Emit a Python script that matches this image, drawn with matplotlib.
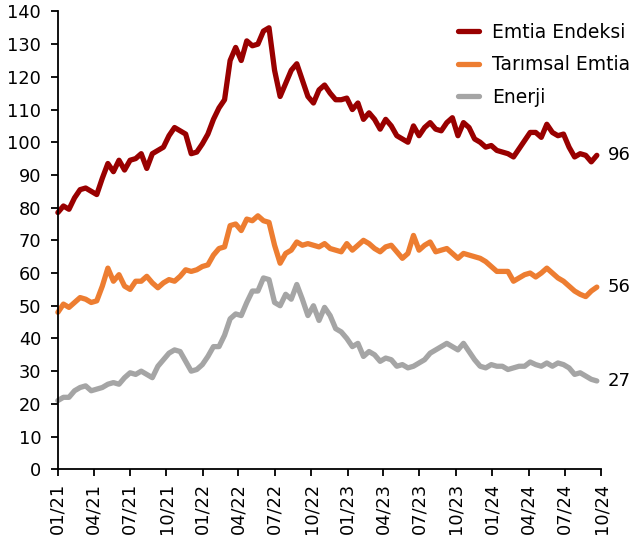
import numpy as np
import pandas as pd
import matplotlib
matplotlib.use("Agg")
import matplotlib.pyplot as plt
import matplotlib.dates as mdates

# --- data (biweekly) ---
start_date = "2021-01-01"
labels = ["Emtia Endeksi", "Tarımsal Emtia", "Enerji"]

emtia = [78.5, 80.5, 79.5, 83, 85.5, 86, 85, 84, 89, 93.5,
         91, 94.5, 91.5, 94.5, 95, 96.5, 92, 96.5, 97.5, 98.5,
         102, 104.5, 103.5, 102.5, 96.5, 97, 99.5, 102.5, 107, 110.5,
         113, 125, 129, 125, 131, 129.5, 130, 134, 135, 122,
         114, 118, 122, 124, 119, 114, 112, 116, 117.5, 115,
         113, 113, 113.5, 110, 112, 107, 109, 107, 104, 107,
         105, 102, 101, 100, 105, 102, 104.5, 106, 104, 103.5,
         106, 107.5, 102, 106, 104.5, 101, 100, 98.5, 99, 97.5,
         97, 96.5, 95.5, 98, 100.5, 103, 103, 101.5, 105.5, 103,
         102, 102.5, 98.5, 95.5, 96.5, 96, 94, 96]

tarim = [48, 50.5, 49.5, 51, 52.5, 52, 51, 51.5, 56, 61.5,
         57.5, 59.5, 56, 55, 57.5, 57.5, 59, 57, 55.5, 57,
         58, 57.5, 59, 61, 60.5, 61, 62, 62.5, 65.5, 67.5,
         68, 74.5, 75, 73, 76.5, 76, 77.5, 76, 75.5, 68.5,
         63, 66, 67, 69.5, 68.5, 69, 68.5, 68, 69, 67.5,
         67, 66.5, 69, 67, 68.5, 70, 69, 67.5, 66.5, 68,
         68.5, 66.5, 64.5, 66, 71.5, 67, 68.5, 69.5, 66.5, 67,
         67.5, 66, 64.5, 66, 65.5, 65, 64.5, 63.5, 62, 60.5,
         60.5, 60.5, 57.5, 58.5, 59.5, 60, 58.8, 60, 61.5, 60,
         58.5, 57.5, 56, 54.5, 53.5, 52.8, 54.5, 55.7]

enerji = [21, 22, 22, 24, 25, 25.5, 24, 24.5, 25, 26,
          26.5, 26, 28, 29.5, 29, 30, 29, 28, 31.5, 33.5,
          35.5, 36.5, 36, 33, 30, 30.5, 32, 34.5, 37.5, 37.5,
          41, 46, 47.5, 47, 51, 54.5, 54.5, 58.5, 58, 51,
          50, 53.5, 52, 56.5, 52, 47, 50, 45.5, 49.5, 47,
          43, 42, 40, 37.5, 38.5, 34.5, 36, 35, 33, 34,
          33.5, 31.5, 32, 31, 31.5, 32.5, 33.5, 35.5, 36.5, 37.5,
          38.5, 37.5, 36.5, 38.5, 36, 33.5, 31.5, 31, 32, 31.5,
          31.5, 30.5, 31, 31.5, 31.5, 32.8, 32, 31.5, 32.5, 31.5,
          32.5, 32, 31, 29, 29.5, 28.5, 27.5, 27]

dates = pd.date_range(start_date, periods=len(emtia), freq="14D")
colors = ["#990000", "#ED7D31", "#A5A5A5"]

plt.rcParams["font.family"] = ["DejaVu Sans"]
plt.rcParams["font.size"] = 12.5

fig = plt.figure(figsize=(6.43, 5.45), dpi=100)
ax = fig.add_axes([0.090, 0.139, 0.845, 0.840])

for series, lab, col in zip([emtia, tarim, enerji], labels, colors):
    ax.plot(dates, series, color=col, lw=3.8, label=lab, solid_capstyle="round",
            clip_on=False)
    ax.annotate(f"{series[-1]:.0f}", xy=(dates[-1], series[-1]), xytext=(8, 0),
                textcoords="offset points", va="center", ha="left", fontsize=13)

ax.set_xlim(pd.Timestamp("2021-01-01"), pd.Timestamp("2024-10-01"))
ax.set_ylim(0, 140)
ax.set_yticks(range(0, 141, 10))
ax.xaxis.set_major_locator(mdates.MonthLocator(bymonth=[1, 4, 7, 10]))
ax.xaxis.set_major_formatter(mdates.DateFormatter("%m/%y"))
plt.setp(ax.get_xticklabels(), rotation=90, ha="center")

for s in ["top", "right"]:
    ax.spines[s].set_visible(False)
for s in ["left", "bottom"]:
    ax.spines[s].set_linewidth(1.3)
ax.tick_params(direction="out", length=5, width=1.3, colors="black", labelsize=12.8)
ax.tick_params(axis="y", pad=7)
ax.tick_params(axis="x", pad=5)

ax.legend(loc="upper right", bbox_to_anchor=(1.085, 1.012), frameon=False,
          handlelength=1.15, handletextpad=0.7, labelspacing=0.72, fontsize=13.5)

fig.savefig("out.png", dpi=100)
